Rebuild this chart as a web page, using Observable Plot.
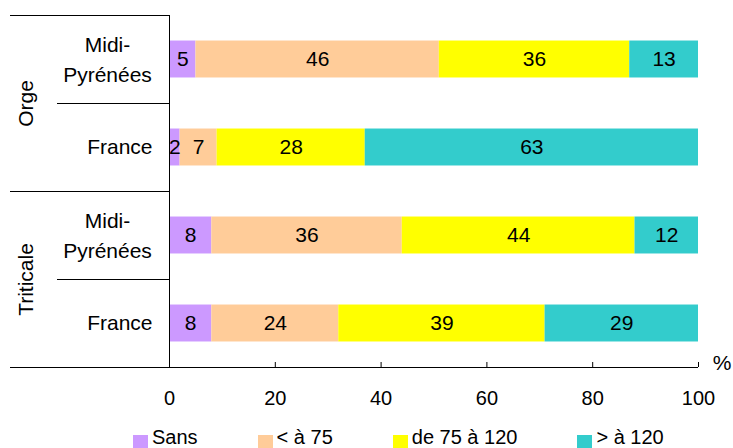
<!DOCTYPE html>
<html><head><meta charset="utf-8">
<script src="https://cdn.jsdelivr.net/npm/d3@7"></script>
<script src="https://cdn.jsdelivr.net/npm/@observablehq/plot@0.6"></script>
<style>
html, body { margin: 0; padding: 0; overflow: hidden; background: #fff; }
#chart { width: 733px; height: 448px; position: relative; }
.lg-swatches { font-family: "Liberation Sans", Arial, sans-serif; font-size: 20px; color: #000;
  margin: -2px 0 0 133px; min-height: 0; height: 20px; line-height: 23px; align-items: flex-start; }
.lg-swatch { margin-right: 60px; height: 23px; align-items: center; }
.lg-swatch > svg { margin-right: 4px; position: relative; top: 5px; }
</style></head>
<body><div id="chart"></div>
<script>
const groups = ["Orge", "Triticale"];
const rowLabels = ["Midi-\nPyrénées", "France", "Midi-\nPyrénées", "France"];
const categories = ["Sans", "< à 75", "de 75 à 120", "> à 120"];
const colors = ["#CC99FF", "#FFCC99", "#FFFF00", "#33CCCC"];
const sans = [5, 2, 8, 8];
const lt75 = [46, 7, 36, 24];
const from75to120 = [36, 28, 44, 39];
const gt120 = [13, 63, 12, 29];
const xTicks = [0, 20, 40, 60, 80, 100];

const series = [sans, lt75, from75to120, gt120];
const table = [];
rowLabels.forEach((label, i) => categories.forEach((cat, j) => table.push({row: i, cat, value: series[j][i]})));
const rows = rowLabels.map((label, i) => ({row: i, label, multi: label.includes("\n")}));

const font = '"Liberation Sans", Arial, sans-serif';
const fs = 21;
const plot = Plot.plot({
  width: 733, height: 428,
  marginTop: 15, marginBottom: 61, marginLeft: 169, marginRight: 35,
  style: {fontFamily: font, fontSize: "20px", color: "#000", background: "#fff", overflow: "visible"},
  x: {domain: [0, 100], ticks: xTicks, tickSize: 0, tickPadding: 23, label: null, tickFormat: d => String(d)},
  y: {domain: [0, 4], reverse: true, axis: null},
  color: {domain: categories, range: colors},
  marks: [
    Plot.rectX(table, Plot.stackX({x: "value", y1: d => d.row + 0.29, y2: d => d.row + 0.71, fill: "cat"})),
    Plot.text(table, Plot.stackX({x: "value", y: d => d.row + 0.5, text: d => String(d.value), fill: "#000", fontSize: fs})),
    Plot.ruleX([0], {stroke: "#000"}),
    Plot.ruleX(xTicks, {x: d => d, insetTop: 347, stroke: "#000"}),
    Plot.ruleY([0, 2], {x1: 0, x2: 0, insetLeft: -159, stroke: "#000"}),
    Plot.ruleY([1, 3], {x1: 0, x2: 0, insetLeft: -112, stroke: "#000"}),
    Plot.ruleY([4], {insetLeft: -159, stroke: "#000"}),
    Plot.text(rows.filter(d => d.multi), {y: d => d.row + 0.5, text: "label", frameAnchor: "left", dx: -62, dy: -2, textAnchor: "middle", lineAnchor: "middle", lineHeight: 1.43, fill: "#000", fontSize: fs}),
    Plot.text(rows.filter(d => !d.multi), {y: d => d.row + 0.5, text: "label", frameAnchor: "left", dx: -17, textAnchor: "end", lineAnchor: "middle", fill: "#000", fontSize: fs}),
    Plot.text(groups, {y: (d, i) => 2 * i + 1, text: d => d, frameAnchor: "left", dx: -143, rotate: -90, textAnchor: "middle", lineAnchor: "middle", fill: "#000", fontSize: fs}),
    Plot.text(["%"], {frameAnchor: "bottom-right", dx: 23.5, dy: -4.5, text: d => d, textAnchor: "middle", lineAnchor: "middle", fill: "#000", fontSize: fs})
  ]
});
const legend = Plot.legend({color: {type: "ordinal", domain: categories, range: colors}, swatchSize: 15, className: "lg"});
const chart = document.getElementById("chart");
chart.appendChild(plot);
chart.appendChild(legend);
</script>
</body></html>
